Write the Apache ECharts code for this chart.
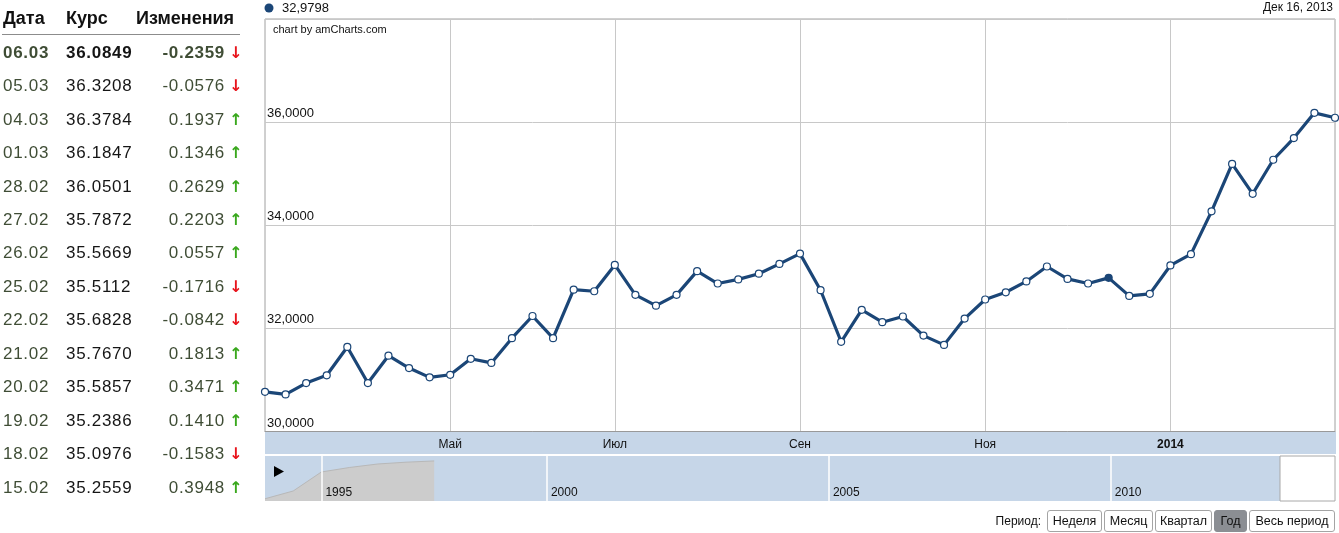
<!DOCTYPE html>
<html>
<head>
<meta charset="utf-8">
<script src="https://cdn.jsdelivr.net/npm/echarts@6/dist/echarts.min.js"></script>
<style>
  html, body { margin:0; padding:0; background:#fff; }
  body { width:1339px; height:533px; position:relative; overflow:hidden; font-family:"Liberation Sans", Arial, sans-serif; }
  #chart { position:absolute; left:0; top:0; width:1339px; height:533px; }
  #table { position:absolute; left:0; top:0; width:245px; z-index:2; }
  .hdr { position:absolute; top:7px; font-weight:bold; font-size:18px; color:#111; line-height:22px; }
  .hline { position:absolute; left:2px; top:34px; width:238px; height:1px; background:#8c8c8c; }
  .row { position:absolute; left:0; width:245px; height:22px; line-height:22px; font-size:17px; letter-spacing:0.7px; }
  .row .d { position:absolute; left:3px; color:#3f4d35; }
  .row .r { position:absolute; left:66px; color:#151515; }
  .row .c { position:absolute; right:20px; color:#3f4d35; text-align:right; }
  .row .a { position:absolute; left:229px; font-family:"DejaVu Sans", sans-serif; font-size:16px; font-weight:bold; letter-spacing:0; }
  .row.b { font-weight:bold; }
  #period { position:absolute; right:4px; top:510px; height:22px; display:flex; align-items:center; z-index:2; font-size:12px; }
  #period .lbl { margin-right:4px; color:#111; }
  #period .btn { box-sizing:border-box; height:22px; line-height:20px; border:1px solid #a4a4a4; border-radius:3px; background:#fff; color:#111; text-align:center; margin-left:2px; font-size:12.5px; }
  #period .btn.sel { background:#8b8e93; border-color:#8b8e93; }
</style>
</head>
<body>
<div id="chart"></div>
<div id="table"></div>
<div id="period"></div>
<script>
// ---- table data ----
const tableDates = ['06.03','05.03','04.03','01.03','28.02','27.02','26.02','25.02','22.02','21.02','20.02','19.02','18.02','15.02'];
const tableRates = ['36.0849','36.3208','36.3784','36.1847','36.0501','35.7872','35.5669','35.5112','35.6828','35.7670','35.5857','35.2386','35.0976','35.2559'];
const tableChanges = ['-0.2359','-0.0576','0.1937','0.1346','0.2629','0.2203','0.0557','-0.1716','-0.0842','0.1813','0.3471','0.1410','-0.1583','0.3948'];
const tableHeaders = ['Дата','Курс','Изменения'];

// ---- main chart data (weekly, Mondays) ----
const weeks = [
  '2013-03-04','2013-03-11','2013-03-18','2013-03-25','2013-04-01','2013-04-08','2013-04-15','2013-04-22','2013-04-29',
  '2013-05-06','2013-05-13','2013-05-20','2013-05-27','2013-06-03','2013-06-10','2013-06-17','2013-06-24',
  '2013-07-01','2013-07-08','2013-07-15','2013-07-22','2013-07-29','2013-08-05','2013-08-12','2013-08-19','2013-08-26',
  '2013-09-02','2013-09-09','2013-09-16','2013-09-23','2013-09-30','2013-10-07','2013-10-14','2013-10-21','2013-10-28',
  '2013-11-04','2013-11-11','2013-11-18','2013-11-25','2013-12-02','2013-12-09','2013-12-16','2013-12-23','2013-12-30',
  '2014-01-06','2014-01-13','2014-01-20','2014-01-27','2014-02-03','2014-02-10','2014-02-17','2014-02-24','2014-03-03'
];
const rates = [
  30.77, 30.72, 30.94, 31.09, 31.64, 30.94, 31.47, 31.23, 31.05, 31.10,
  31.41, 31.33, 31.81, 32.24, 31.81, 32.75, 32.72, 33.23, 32.65, 32.44,
  32.65, 33.11, 32.87, 32.95, 33.06, 33.25, 33.45, 32.74, 31.74, 32.36,
  32.12, 32.23, 31.86, 31.68, 32.19, 32.56, 32.70, 32.91, 33.20, 32.96,
  32.87, 32.9798, 32.63, 32.67, 33.22, 33.44, 34.27, 35.19, 34.61, 35.27,
  35.69, 36.18, 36.0849
];
const hoverIndex = 41;
const monthNames = ['Янв','Фев','Мар','Апр','Май','Июн','Июл','Авг','Сен','Окт','Ноя','Дек'];
const yMin = 30, yMax = 38, yStep = 2;

// ---- navigator (scrollbar) data ----
const navCats = [
  '1994-01','1994-07',
  '1995-01','1995-08','1996-04','1996-11','1997-07','1998-02','1998-10','1999-05',
  '2000-01','2000-07','2001-01','2001-07','2002-01','2002-07','2003-01','2003-07','2004-01','2004-07',
  '2005-01','2005-07','2006-01','2006-07','2007-01','2007-07','2008-01','2008-07','2009-01','2009-07',
  '2010-01','2010-07','2011-01','2011-07','2012-01','2012-07','2013-01'
];
const navValues = [2.0, 8.9, 25.8, 29.8, 32.9, 34.5, 35.6,
  null,null,null,null,null,null,null,null,null,null,null,null,null,null,null,null,null,null,null,null,null,null,null,null,null,null,null,null,null,null];
const periodButtons = ['Неделя','Месяц','Квартал','Год','Весь период'];
const periodWidths = [55, 49, 57, 33, 86];
const selectedPeriod = 'Год';

// ---- build table ----
const tbl = document.getElementById('table');
const hx = [3, 66, 136];
tableHeaders.forEach((h, i) => {
  const d = document.createElement('div');
  d.className = 'hdr'; d.style.left = hx[i] + 'px'; d.textContent = h; tbl.appendChild(d);
});
const hl = document.createElement('div'); hl.className = 'hline'; tbl.appendChild(hl);
tableDates.forEach((dt, i) => {
  const r = document.createElement('div');
  r.className = 'row' + (i === 0 ? ' b' : '');
  r.style.top = (52.7 + i * 33.46 - 11) + 'px';
  const up = tableChanges[i][0] !== '-';
  r.innerHTML = '<span class="d">' + dt + '</span><span class="r">' + tableRates[i] + '</span>' +
    '<span class="c">' + tableChanges[i] + '</span>' +
    '<span class="a" style="color:' + (up ? '#3aa81e' : '#e8141c') + '">' + (up ? '↑' : '↓') + '</span>';
  tbl.appendChild(r);
});

// ---- period buttons ----
const per = document.getElementById('period');
const lbl = document.createElement('span'); lbl.className = 'lbl'; lbl.textContent = 'Период:'; per.appendChild(lbl);
periodButtons.forEach((b, i) => {
  const e = document.createElement('div');
  e.className = 'btn' + (b === selectedPeriod ? ' sel' : '');
  e.style.width = periodWidths[i] + 'px';
  e.textContent = b; per.appendChild(e);
});

// ---- helpers ----
function isLabelWeek(idx, val) {
  if (idx === 0 || idx === weeks.length - 1) return false;
  const m = parseInt(val.slice(5, 7), 10);
  const day = parseInt(val.slice(8, 10), 10);
  return day <= 7 && (m % 2 === 1);
}
function isNavYear(idx, val) {
  const y = parseInt(val.slice(0, 4), 10);
  return val.slice(5) === '01' && y % 5 === 0;
}
const fmt = v => v.toFixed(4).replace('.', ',');
const hd = weeks[hoverIndex];
const hoverDateText = monthNames[parseInt(hd.slice(5, 7), 10) - 1] + ' ' + parseInt(hd.slice(8), 10) + ', ' + hd.slice(0, 4);

const lineColor = '#1b4677';
const bandColor = '#c6d6e8';
const font = '"Liberation Sans", Arial, sans-serif';

const chart = echarts.init(document.getElementById('chart'), null, { renderer: 'canvas' });
chart.setOption({
  animation: false,
  textStyle: { fontFamily: font },
  grid: [
    { left: 265, top: 19, width: 1070, height: 412.5, show: true, borderColor: '#a0a0a0', borderWidth: 1, backgroundColor: 'transparent', containLabel: false, outerBoundsMode: 'none' },
    { left: 265, top: 456, width: 1015, height: 45, show: true, borderWidth: 0, backgroundColor: bandColor, containLabel: false, outerBoundsMode: 'none' }
  ],
  xAxis: [
    {
      type: 'category', gridIndex: 0, data: weeks, boundaryGap: false,
      axisLine: { show: true, lineStyle: { color: '#999' } },
      axisTick: { show: false },
      axisLabel: {
        interval: isLabelWeek, margin: 7, color: '#111', fontSize: 12, fontFamily: font,
        formatter: v => {
          const m = parseInt(v.slice(5, 7), 10);
          return m === 1 ? '{b|' + v.slice(0, 4) + '}' : monthNames[m - 1];
        },
        rich: { b: { fontWeight: 'bold', fontSize: 12, color: '#111', fontFamily: font } }
      },
      splitLine: { show: true, interval: isLabelWeek, lineStyle: { color: '#c8c8c8', width: 1 } }
    },
    {
      type: 'category', gridIndex: 1, data: navCats, boundaryGap: false, z: 4,
      axisLine: { show: false }, axisTick: { show: false },
      axisLabel: {
        inside: true, interval: isNavYear, formatter: v => v.slice(0, 4),
        align: 'left', padding: [0, 0, 0, 4], margin: 2, fontSize: 12, color: '#111', fontFamily: font
      },
      splitLine: { show: true, interval: isNavYear, lineStyle: { color: '#ffffff', width: 1.5 } }
    }
  ],
  yAxis: [
    {
      type: 'value', gridIndex: 0, min: yMin, max: yMax, interval: yStep,
      axisLine: { show: false }, axisTick: { show: false },
      axisLabel: {
        inside: true, formatter: fmt, showMaxLabel: false, margin: 2,
        verticalAlign: 'bottom', padding: [0, 0, 2, 0], fontSize: 13, color: '#111', fontFamily: font
      },
      splitLine: { show: true, lineStyle: { color: '#c8c8c8', width: 1 } }
    },
    { type: 'value', gridIndex: 1, min: 0, max: 40, show: false, splitLine: { show: false } }
  ],
  series: [
    {
      type: 'line', xAxisIndex: 0, yAxisIndex: 0,
      data: rates.map((v, i) => i === hoverIndex ? { value: v, itemStyle: { color: lineColor } } : v),
      symbol: 'circle', symbolSize: 7, showAllSymbol: true,
      lineStyle: { color: lineColor, width: 3.2 },
      itemStyle: { color: '#ffffff', borderColor: lineColor, borderWidth: 1.2 },
      clip: false, silent: true
    },
    {
      type: 'line', xAxisIndex: 1, yAxisIndex: 1, data: navValues, symbol: 'none',
      lineStyle: { color: '#b8b8b8', width: 1 },
      areaStyle: { color: '#cccccc', opacity: 1 },
      connectNulls: false, silent: true
    }
  ],
  graphic: [
    { type: 'rect', z: -1, shape: { x: 265, y: 432, width: 1071, height: 22 }, style: { fill: bandColor } },
    { type: 'rect', z: 5, shape: { x: 1280, y: 456, width: 55, height: 45 }, style: { fill: '#ffffff', stroke: '#a8a8a8', lineWidth: 1 } },
    { type: 'polygon', z: 5, shape: { points: [[274, 466], [274, 477], [284, 471.5]] }, style: { fill: '#000' } },
    { type: 'circle', z: 5, shape: { cx: 269, cy: 8, r: 4.5 }, style: { fill: lineColor } },
    { type: 'text', z: 5, x: 282, y: 8, style: { text: fmt(rates[hoverIndex]), fill: '#111', font: '13px ' + font, verticalAlign: 'middle' } },
    { type: 'text', z: 5, x: 1333, y: 8, style: { text: hoverDateText, fill: '#111', font: '12px ' + font, align: 'right', verticalAlign: 'middle' } },
    { type: 'text', z: 5, x: 273, y: 30, style: { text: 'chart by amCharts.com', fill: '#111', font: '11px ' + font, verticalAlign: 'middle' } }
  ]
});
</script>
</body>
</html>
